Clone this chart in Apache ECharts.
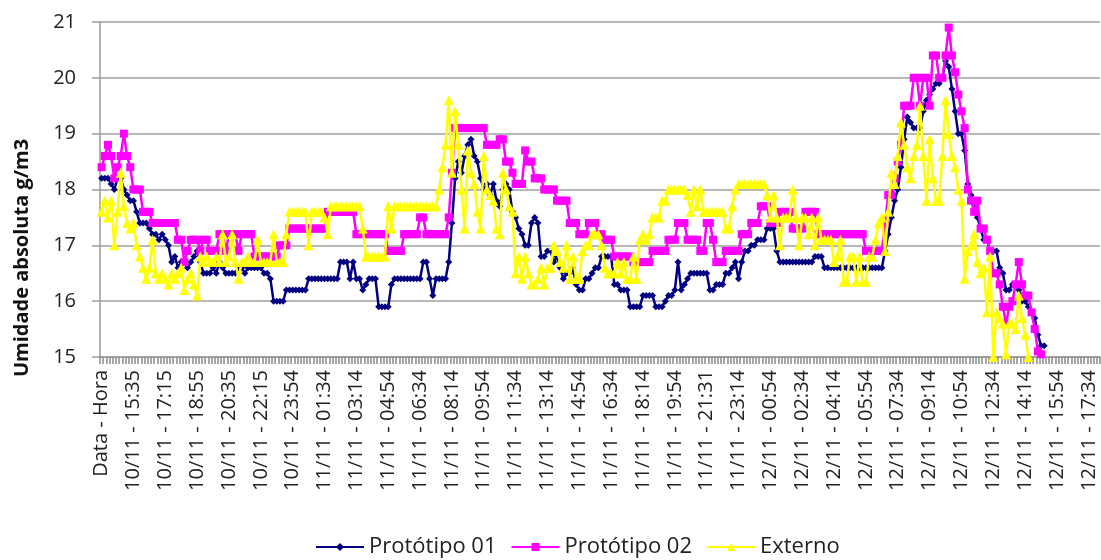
<!DOCTYPE html>
<html>
<head>
<meta charset="utf-8">
<script src="https://cdn.jsdelivr.net/npm/echarts@6/dist/echarts.min.js"></script>
<style>
  html, body { margin: 0; padding: 0; background: #fff; }
  #chart { width: 1101px; height: 560px; }
</style>
</head>
<body>
<div id="chart"></div>
<script>
// Tick labels shown every 10th reading on the time axis
const tickLabels = [
  'Data - Hora',
  '10/11 - 15:35', '10/11 - 17:15', '10/11 - 18:55', '10/11 - 20:35', '10/11 - 22:15', '10/11 - 23:54',
  '11/11 - 01:34', '11/11 - 03:14', '11/11 - 04:54', '11/11 - 06:34', '11/11 - 08:14', '11/11 - 09:54',
  '11/11 - 11:34', '11/11 - 13:14', '11/11 - 14:54', '11/11 - 16:34', '11/11 - 18:14', '11/11 - 19:54',
  '11/11 - 21:31', '11/11 - 23:14', '12/11 - 00:54', '12/11 - 02:34', '12/11 - 04:14', '12/11 - 05:54',
  '12/11 - 07:34', '12/11 - 09:14', '12/11 - 10:54', '12/11 - 12:34', '12/11 - 14:14', '12/11 - 15:54',
  '12/11 - 17:34'
];
const categoryCount = 314;
const labelStep = 10;

const seriesNames = ['Protótipo 01', 'Protótipo 02', 'Externo'];
const yTitle = 'Umidade absoluta g/m3';

// Absolute humidity (g/m3), one reading per category
const prototipo01 = [
  18.2,18.2,18.2,18.1,18.0,18.2,18.2,18.0,17.9,17.8,
  17.8,17.6,17.4,17.4,17.4,17.3,17.2,17.2,17.1,17.2,
  17.1,17.0,16.7,16.8,16.6,16.7,16.7,16.6,16.7,16.8,
  16.9,16.7,16.5,16.5,16.5,16.6,16.5,16.7,16.6,16.5,
  16.5,16.5,16.5,16.6,16.6,16.5,16.6,16.6,16.6,16.6,
  16.6,16.5,16.5,16.4,16.0,16.0,16.0,16.0,16.2,16.2,
  16.2,16.2,16.2,16.2,16.2,16.4,16.4,16.4,16.4,16.4,
  16.4,16.4,16.4,16.4,16.4,16.7,16.7,16.7,16.4,16.7,
  16.4,16.4,16.2,16.3,16.4,16.4,16.4,15.9,15.9,15.9,
  15.9,16.3,16.4,16.4,16.4,16.4,16.4,16.4,16.4,16.4,
  16.4,16.7,16.7,16.4,16.1,16.4,16.4,16.4,16.4,16.7,
  17.4,18.2,18.5,18.3,18.6,18.8,18.9,18.6,18.5,18.2,
  18.0,18.1,17.9,18.1,17.8,17.7,18.0,18.1,18.0,17.6,
  17.5,17.3,17.2,17.0,17.0,17.4,17.5,17.4,16.8,16.8,
  16.9,16.9,16.7,16.8,16.6,16.4,16.5,16.5,16.6,16.3,
  16.2,16.2,16.4,16.4,16.5,16.6,16.6,16.8,16.8,16.8,
  16.8,16.3,16.3,16.2,16.2,16.2,15.9,15.9,15.9,15.9,
  16.1,16.1,16.1,16.1,15.9,15.9,15.9,16.0,16.1,16.1,
  16.2,16.7,16.2,16.3,16.4,16.5,16.5,16.5,16.5,16.5,
  16.5,16.2,16.2,16.3,16.3,16.3,16.5,16.5,16.6,16.7,
  16.4,16.7,16.9,16.9,17.0,17.0,17.1,17.1,17.1,17.3,
  17.3,17.3,16.9,16.7,16.7,16.7,16.7,16.7,16.7,16.7,
  16.7,16.7,16.7,16.7,16.8,16.8,16.8,16.6,16.6,16.6,
  16.6,16.6,16.6,16.6,16.6,16.6,16.6,16.6,16.6,16.6,
  16.6,16.6,16.6,16.6,16.6,16.6,16.9,17.2,17.5,17.8,
  18.0,18.4,18.9,19.3,19.2,19.1,19.1,19.1,19.4,19.6,
  19.7,19.8,19.9,19.9,20.0,20.3,20.2,19.8,19.4,19.0,
  19.0,18.7,18.1,17.9,17.8,17.5,17.3,17.1,17.1,16.9,
  16.9,16.9,16.6,16.5,16.2,16.2,16.3,16.3,16.2,16.0,
  16.0,15.9,15.8,15.7,15.4,15.2,15.2
];

const prototipo02 = [
  18.4,18.6,18.8,18.6,18.2,18.4,18.6,19.0,18.6,18.4,
  18.0,18.0,18.0,17.6,17.6,17.6,17.4,17.4,17.4,17.4,
  17.4,17.4,17.4,17.4,17.1,17.1,16.7,16.9,17.1,17.1,
  17.1,16.9,17.1,17.1,16.9,16.9,16.9,17.2,17.2,16.9,
  17.2,17.2,17.2,16.9,17.2,17.2,17.2,17.2,16.8,16.8,
  16.8,16.8,16.8,16.8,16.8,16.8,17.0,17.0,17.0,17.3,
  17.3,17.3,17.3,17.3,17.3,17.3,17.3,17.3,17.3,17.3,
  17.3,17.6,17.6,17.6,17.6,17.6,17.6,17.6,17.6,17.6,
  17.2,17.2,17.2,17.2,17.2,17.2,17.2,17.2,17.2,17.2,
  16.9,16.9,16.9,16.9,16.9,17.2,17.2,17.2,17.2,17.2,
  17.5,17.5,17.2,17.2,17.2,17.2,17.2,17.2,17.2,17.5,
  18.3,19.1,19.1,19.1,19.1,19.1,19.1,19.1,19.1,19.1,
  19.1,18.8,18.8,18.8,18.8,18.9,18.9,18.5,18.5,18.3,
  18.1,18.1,18.1,18.7,18.5,18.5,18.2,18.2,18.2,18.0,
  18.0,18.0,18.0,17.8,17.8,17.8,17.8,17.4,17.4,17.4,
  17.2,17.2,17.2,17.4,17.4,17.4,17.2,17.2,17.1,17.1,
  17.1,16.8,16.8,16.8,16.8,16.8,16.8,16.7,16.7,16.7,
  16.7,16.7,16.7,16.9,16.9,16.9,16.9,16.9,17.1,17.1,
  17.1,17.4,17.4,17.4,17.1,17.1,17.1,17.1,16.9,16.9,
  17.4,17.4,17.1,16.7,16.7,16.7,16.9,16.9,16.9,16.9,
  16.9,17.2,17.2,17.2,17.4,17.4,17.4,17.7,17.7,17.7,
  17.4,17.4,17.4,17.6,17.6,17.6,17.6,17.3,17.3,17.3,
  17.3,17.6,17.6,17.6,17.6,17.2,17.2,17.2,17.2,17.2,
  17.2,17.2,17.2,17.2,17.2,17.2,17.2,17.2,17.2,17.2,
  16.9,16.9,16.9,16.9,16.9,16.9,17.4,17.9,17.9,18.2,
  18.5,18.8,19.5,19.5,19.5,20.0,20.0,19.5,20.0,20.0,
  19.5,20.4,20.4,20.0,20.0,20.4,20.9,20.4,20.1,19.7,
  19.4,19.1,18.0,17.8,17.6,17.8,17.3,17.3,17.1,16.9,
  16.5,16.5,16.3,15.9,15.6,15.9,16.0,16.3,16.7,16.3,
  16.1,16.1,15.8,15.5,15.1,15.05
];

const externo = [
  17.6,17.8,17.5,17.8,17.0,17.6,18.3,17.7,17.4,17.3,
  17.4,17.0,16.8,16.6,16.4,16.6,17.1,16.5,16.4,16.5,
  16.4,16.3,16.5,16.4,16.5,16.6,16.2,16.4,16.5,16.3,
  16.1,16.8,16.7,16.8,16.7,16.7,16.8,16.7,17.2,16.7,
  16.8,17.2,16.7,16.4,16.7,16.7,16.8,16.7,16.7,17.1,
  16.7,16.7,16.7,16.7,17.2,16.7,16.7,16.7,17.2,17.6,
  17.6,17.6,17.6,17.6,17.6,17.0,17.6,17.6,17.6,17.6,
  17.5,17.2,17.7,17.7,17.7,17.7,17.7,17.7,17.7,17.7,
  17.7,17.7,17.3,16.8,16.8,16.8,16.8,16.8,16.8,16.8,
  17.7,17.3,17.7,17.7,17.7,17.7,17.7,17.7,17.7,17.7,
  17.7,17.7,17.7,17.7,17.7,17.7,18.0,18.4,18.8,19.6,
  18.3,19.4,18.8,18.0,17.3,18.7,18.3,18.1,17.6,17.3,
  18.6,18.0,17.9,17.8,17.3,17.2,18.3,18.0,17.7,17.6,
  16.5,16.8,16.4,16.8,16.5,16.3,16.3,16.4,16.6,16.3,
  16.6,16.6,17.0,16.9,16.7,16.6,17.0,16.4,16.8,16.4,
  16.4,16.9,17.0,17.0,17.2,17.2,17.2,17.0,16.6,16.5,
  16.5,16.5,16.7,16.5,16.7,16.4,16.4,16.8,16.4,17.1,
  17.2,17.1,17.2,17.5,17.5,17.5,17.8,17.8,18.0,18.0,
  18.0,18.0,18.0,18.0,17.9,17.6,18.0,17.7,18.0,17.6,
  17.6,17.6,17.6,17.6,17.6,17.6,17.3,17.3,17.7,18.0,
  18.1,18.1,18.1,18.1,18.1,18.1,18.1,18.1,18.1,17.9,
  17.5,17.9,17.5,17.0,17.5,17.5,17.5,18.0,17.5,17.0,
  17.5,17.5,17.2,17.5,17.0,17.5,17.1,17.1,17.1,17.1,
  16.7,16.8,17.1,16.35,16.35,16.8,16.8,16.35,16.8,16.35,
  16.35,16.8,16.8,17.1,17.4,17.5,16.9,17.6,18.3,18.1,
  18.6,19.2,18.8,18.4,18.2,18.6,18.8,19.5,18.6,17.8,
  18.9,18.2,17.8,17.8,18.6,19.6,19.0,18.6,18.4,18.0,
  17.8,16.4,16.9,17.0,17.2,16.7,16.5,16.6,15.8,16.8,
  15.0,15.8,15.7,15.6,15.05,15.6,15.6,15.5,16.1,15.7,
  15.4,15.0
];

// Category axis: a label on every 10th slot, blank elsewhere
const categories = [];
for (let i = 0; i < categoryCount; i++) {
  categories.push(i % labelStep === 0 ? (tickLabels[i / labelStep] || '') : '');
}

const textFont = 'Open Sans';
const chart = echarts.init(document.getElementById('chart'), null, { renderer: 'canvas' });

chart.setOption({
  animation: false,
  backgroundColor: '#ffffff',
  grid: { left: 100, right: 1, top: 22, bottom: 203, containLabel: false },
  graphic: [{
    type: 'text',
    x: 22,
    y: 258,
    rotation: Math.PI / 2,
    style: {
      text: yTitle,
      fontFamily: textFont,
      fontSize: 20,
      fontWeight: 'bold',
      fill: '#111',
      align: 'center',
      verticalAlign: 'middle'
    }
  }],
  legend: {
    bottom: -3,
    left: 310,
    itemWidth: 48,
    itemHeight: 10,
    itemGap: 14,
    textStyle: { fontFamily: textFont, fontSize: 22, color: '#222' },
    data: seriesNames
  },
  xAxis: {
    type: 'category',
    data: categories,
    boundaryGap: true,
    axisLine: { show: true, lineStyle: { color: '#9a9a9a', width: 1.5 } },
    axisTick: { show: true, interval: 0, length: 7, lineStyle: { color: '#8a8a8a', width: 1.5 } },
    axisLabel: {
      interval: 0,
      rotate: 90,
      margin: 13,
      fontFamily: textFont,
      fontSize: 20,
      color: '#222'
    },
    splitLine: { show: false }
  },
  yAxis: {
    type: 'value',
    min: 15,
    max: 21,
    interval: 1,
    axisLine: { show: true, lineStyle: { color: '#9a9a9a', width: 1.5 } },
    axisTick: { show: true, length: 8, lineStyle: { color: '#9a9a9a', width: 1.5 } },
    axisLabel: { margin: 24, fontFamily: textFont, fontSize: 20, color: '#222' },
    splitLine: { show: true, lineStyle: { color: '#a0a0a0', width: 1.5 } }
  },
  series: [
    {
      name: seriesNames[0],
      type: 'line',
      data: prototipo01,
      symbol: 'diamond',
      symbolSize: 7,
      showAllSymbol: true,
      lineStyle: { color: '#000080', width: 2.5 },
      itemStyle: { color: '#000080' },
      z: 2
    },
    {
      name: seriesNames[1],
      type: 'line',
      data: prototipo02,
      symbol: 'rect',
      symbolSize: 8,
      showAllSymbol: true,
      lineStyle: { color: '#ff00ff', width: 2.5 },
      itemStyle: { color: '#ff00ff' },
      z: 3
    },
    {
      name: seriesNames[2],
      type: 'line',
      data: externo,
      symbol: 'triangle',
      symbolSize: 10,
      showAllSymbol: true,
      lineStyle: { color: '#ffff00', width: 2.5 },
      itemStyle: { color: '#ffff00' },
      z: 4
    }
  ]
});
</script>
</body>
</html>
